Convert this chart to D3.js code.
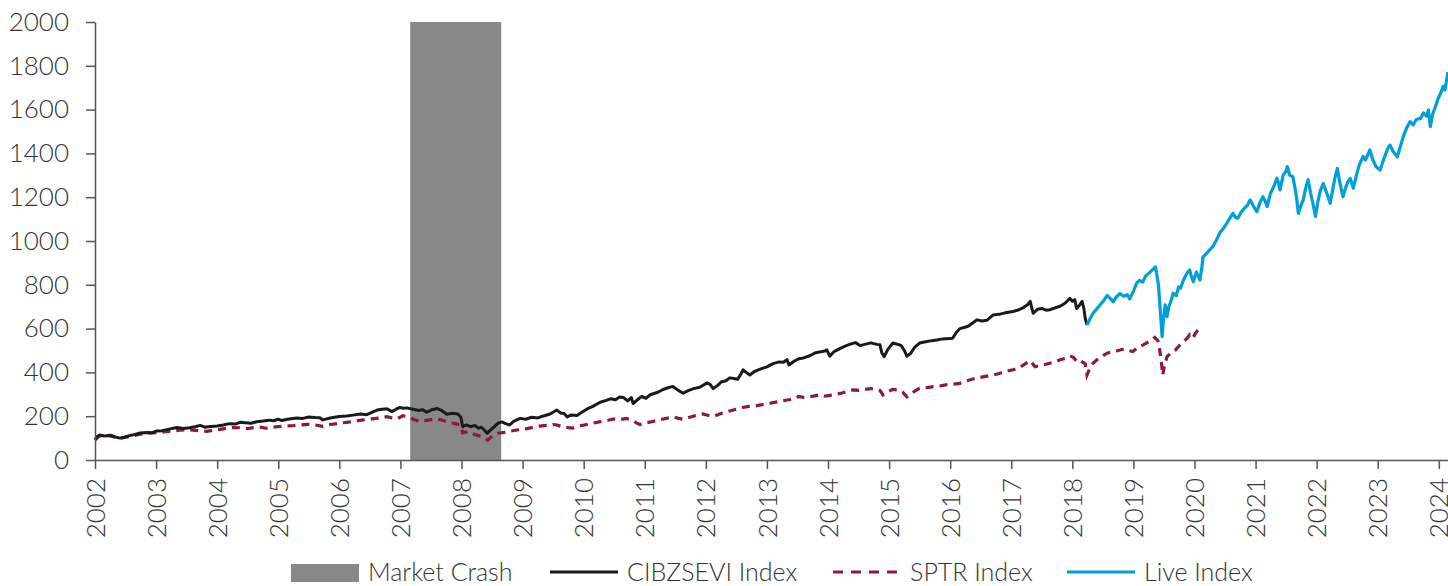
<!DOCTYPE html>
<html>
<head>
<meta charset="utf-8">
<script src="https://cdn.jsdelivr.net/npm/d3@7"></script>
<style>
  body { margin: 0; background: #fff; }
  svg text { font-family: Lato, "Open Sans", sans-serif; font-weight: 300; fill: #333; }
</style>
</head>
<body>
<div id="chart"></div>
<script>
// values: [decimal year, index level]
var cibzsevi = [
  [2002.00, 95], [2002.04, 108], [2002.08, 114], [2002.15, 110], [2002.25, 113], [2002.33, 105],
  [2002.41, 100], [2002.48, 104], [2002.55, 110], [2002.64, 116], [2002.74, 123], [2002.85, 126],
  [2002.93, 124], [2003.00, 132], [2003.10, 134], [2003.23, 142], [2003.34, 148], [2003.45, 144],
  [2003.55, 147], [2003.64, 152], [2003.72, 158], [2003.80, 150], [2003.85, 152], [2004.00, 155],
  [2004.10, 160], [2004.20, 166], [2004.30, 164], [2004.37, 172], [2004.46, 170], [2004.55, 168],
  [2004.65, 175], [2004.75, 178], [2004.85, 182], [2004.92, 179], [2005.00, 186], [2005.06, 180],
  [2005.15, 186], [2005.30, 192], [2005.40, 190], [2005.50, 196], [2005.60, 194], [2005.68, 193],
  [2005.73, 183], [2005.85, 192], [2006.00, 199], [2006.12, 201], [2006.25, 206], [2006.35, 210],
  [2006.45, 207], [2006.55, 220], [2006.62, 228], [2006.70, 232], [2006.78, 234], [2006.86, 221],
  [2006.93, 232], [2006.99, 240], [2007.05, 236], [2007.10, 238], [2007.21, 232], [2007.30, 226],
  [2007.36, 230], [2007.43, 218], [2007.50, 228], [2007.60, 235], [2007.68, 225], [2007.76, 209],
  [2007.85, 213], [2007.94, 210], [2007.99, 195], [2008.02, 152], [2008.08, 160], [2008.15, 152],
  [2008.22, 158], [2008.28, 145], [2008.32, 150], [2008.38, 135], [2008.42, 122], [2008.47, 135],
  [2008.52, 148], [2008.60, 168], [2008.66, 174], [2008.72, 166], [2008.79, 160], [2008.86, 178],
  [2008.96, 190], [2009.05, 186], [2009.15, 195], [2009.25, 192], [2009.33, 200], [2009.45, 210],
  [2009.56, 228], [2009.62, 215], [2009.68, 212], [2009.73, 197], [2009.80, 206], [2009.89, 203],
  [2009.97, 218], [2010.05, 232], [2010.15, 245], [2010.27, 264], [2010.37, 272], [2010.45, 280],
  [2010.52, 275], [2010.59, 288], [2010.66, 284], [2010.72, 270], [2010.78, 285], [2010.81, 258],
  [2010.88, 275], [2010.95, 290], [2011.02, 282], [2011.09, 298], [2011.20, 308], [2011.30, 322],
  [2011.38, 330], [2011.46, 336], [2011.55, 318], [2011.63, 305], [2011.72, 318], [2011.80, 326],
  [2011.90, 332], [2012.02, 352], [2012.07, 345], [2012.12, 326], [2012.20, 342], [2012.25, 356],
  [2012.33, 362], [2012.39, 375], [2012.46, 372], [2012.52, 368], [2012.58, 395], [2012.61, 412],
  [2012.66, 400], [2012.72, 388], [2012.80, 405], [2012.90, 416], [2013.00, 425], [2013.10, 440],
  [2013.20, 448], [2013.27, 446], [2013.33, 458], [2013.36, 434], [2013.45, 452], [2013.52, 462],
  [2013.60, 466], [2013.70, 476], [2013.80, 490], [2013.88, 494], [2013.95, 498], [2013.98, 503],
  [2014.03, 474], [2014.10, 495], [2014.20, 510], [2014.30, 522], [2014.38, 530], [2014.45, 536],
  [2014.53, 522], [2014.60, 528], [2014.70, 535], [2014.80, 528], [2014.85, 526], [2014.88, 490],
  [2014.92, 472], [2014.98, 505], [2015.06, 534], [2015.12, 530], [2015.20, 522], [2015.25, 500],
  [2015.29, 474], [2015.35, 486], [2015.42, 515], [2015.50, 534], [2015.60, 540], [2015.70, 545],
  [2015.78, 548], [2015.88, 553], [2016.04, 556], [2016.10, 582], [2016.16, 600], [2016.24, 606],
  [2016.30, 612], [2016.38, 628], [2016.44, 640], [2016.52, 635], [2016.60, 638], [2016.70, 662],
  [2016.80, 665], [2016.90, 672], [2017.03, 678], [2017.12, 686], [2017.20, 696], [2017.27, 710],
  [2017.31, 724], [2017.34, 690], [2017.36, 670], [2017.43, 688], [2017.50, 692], [2017.57, 684],
  [2017.63, 686], [2017.72, 695], [2017.80, 702], [2017.88, 716], [2017.96, 738], [2018.00, 725],
  [2018.04, 732], [2018.07, 692], [2018.12, 708], [2018.16, 724], [2018.19, 690], [2018.21, 648],
  [2018.24, 616]
];

var sptr = [
  [2002.00, 91], [2002.06, 108], [2002.13, 114], [2002.25, 110], [2002.41, 99], [2002.55, 106],
  [2002.70, 116], [2002.85, 122], [2003.00, 125], [2003.12, 128], [2003.25, 132], [2003.38, 136],
  [2003.51, 138], [2003.65, 135], [2003.83, 131], [2003.95, 137], [2004.05, 140], [2004.15, 145],
  [2004.26, 148], [2004.40, 147], [2004.50, 143], [2004.59, 148], [2004.70, 150], [2004.80, 145],
  [2004.90, 150], [2005.00, 152], [2005.12, 155], [2005.25, 157], [2005.36, 160], [2005.48, 163],
  [2005.60, 160], [2005.73, 154], [2005.85, 162], [2006.00, 168], [2006.12, 172], [2006.25, 177],
  [2006.39, 183], [2006.50, 186], [2006.60, 190], [2006.70, 194], [2006.78, 198], [2006.86, 192],
  [2006.94, 187], [2007.04, 202], [2007.14, 196], [2007.22, 185], [2007.32, 176], [2007.45, 182],
  [2007.60, 188], [2007.70, 180], [2007.80, 172], [2007.93, 164], [2007.98, 160], [2008.02, 124],
  [2008.10, 130], [2008.20, 118], [2008.30, 110], [2008.36, 104], [2008.43, 91], [2008.50, 108],
  [2008.60, 122], [2008.70, 126], [2008.80, 132], [2008.91, 137], [2009.05, 142], [2009.15, 148],
  [2009.28, 155], [2009.40, 158], [2009.50, 162], [2009.56, 160], [2009.65, 152], [2009.75, 148],
  [2009.82, 146], [2009.92, 155], [2010.05, 162], [2010.15, 168], [2010.27, 175], [2010.38, 180],
  [2010.48, 187], [2010.60, 185], [2010.70, 190], [2010.81, 180], [2010.87, 168], [2010.92, 162],
  [2011.00, 168], [2011.13, 176], [2011.25, 184], [2011.35, 190], [2011.46, 198], [2011.55, 190],
  [2011.63, 186], [2011.75, 196], [2011.85, 204], [2011.95, 210], [2012.03, 204], [2012.12, 198],
  [2012.25, 212], [2012.39, 224], [2012.50, 232], [2012.60, 240], [2012.70, 245], [2012.80, 246],
  [2012.90, 252], [2013.00, 255], [2013.10, 262], [2013.22, 268], [2013.33, 274], [2013.45, 278],
  [2013.52, 290], [2013.60, 286], [2013.70, 288], [2013.80, 294], [2013.87, 298], [2013.95, 292],
  [2014.03, 295], [2014.10, 300], [2014.20, 304], [2014.30, 312], [2014.41, 320], [2014.50, 318],
  [2014.60, 322], [2014.70, 326], [2014.80, 324], [2014.85, 318], [2014.90, 297], [2014.95, 308],
  [2015.06, 322], [2015.15, 320], [2015.22, 310], [2015.29, 289], [2015.35, 298], [2015.42, 315],
  [2015.50, 327], [2015.60, 330], [2015.70, 334], [2015.83, 338], [2015.95, 344], [2016.05, 346],
  [2016.16, 350], [2016.27, 362], [2016.37, 370], [2016.47, 376], [2016.58, 382], [2016.70, 388],
  [2016.80, 395], [2016.90, 404], [2017.03, 412], [2017.13, 420], [2017.22, 438], [2017.31, 454],
  [2017.35, 440], [2017.39, 426], [2017.48, 432], [2017.55, 436], [2017.63, 442], [2017.72, 448],
  [2017.80, 458], [2017.88, 464], [2017.96, 476], [2018.02, 468], [2018.07, 450], [2018.12, 456],
  [2018.16, 448], [2018.21, 440], [2018.24, 388], [2018.28, 415], [2018.34, 442], [2018.42, 462],
  [2018.50, 476], [2018.57, 488], [2018.65, 494], [2018.72, 498], [2018.78, 502], [2018.85, 508],
  [2018.92, 500], [2018.99, 495], [2019.06, 512], [2019.16, 526], [2019.25, 540], [2019.30, 548],
  [2019.35, 560], [2019.40, 545], [2019.43, 503], [2019.46, 440], [2019.48, 388], [2019.50, 420],
  [2019.55, 472], [2019.62, 490], [2019.68, 500], [2019.76, 525], [2019.82, 540], [2019.88, 556],
  [2019.92, 572], [2019.97, 556], [2020.02, 580], [2020.06, 595], [2020.09, 590]
];

var liveIndex = [
  [2018.24, 616], [2018.28, 640], [2018.34, 670], [2018.40, 690], [2018.46, 710], [2018.52, 730],
  [2018.57, 752], [2018.62, 738], [2018.67, 722], [2018.72, 745], [2018.78, 760], [2018.84, 748],
  [2018.90, 755], [2018.94, 736], [2019.00, 770], [2019.05, 806], [2019.10, 820], [2019.15, 812],
  [2019.20, 840], [2019.25, 852], [2019.31, 868], [2019.34, 876], [2019.36, 882], [2019.38, 850],
  [2019.41, 800], [2019.44, 680], [2019.47, 563], [2019.49, 640], [2019.52, 708], [2019.55, 654],
  [2019.58, 700], [2019.62, 730], [2019.65, 762], [2019.70, 750], [2019.74, 790], [2019.77, 784],
  [2019.82, 822], [2019.87, 850], [2019.92, 868], [2019.95, 838], [2019.98, 814], [2020.03, 858],
  [2020.06, 840], [2020.09, 822], [2020.12, 880], [2020.14, 928], [2020.20, 945], [2020.25, 960],
  [2020.30, 975], [2020.36, 1005], [2020.42, 1040], [2020.48, 1060], [2020.53, 1082], [2020.58, 1105],
  [2020.63, 1126], [2020.67, 1108], [2020.71, 1104], [2020.76, 1130], [2020.82, 1150], [2020.87, 1165],
  [2020.91, 1188], [2020.96, 1162], [2021.02, 1134], [2021.07, 1175], [2021.12, 1202], [2021.16, 1180],
  [2021.19, 1157], [2021.24, 1215], [2021.30, 1250], [2021.35, 1287], [2021.38, 1260], [2021.40, 1233],
  [2021.45, 1300], [2021.50, 1320], [2021.52, 1340], [2021.56, 1300], [2021.61, 1294], [2021.64, 1250],
  [2021.67, 1200], [2021.70, 1126], [2021.74, 1160], [2021.78, 1188], [2021.82, 1240], [2021.86, 1280],
  [2021.90, 1220], [2021.94, 1170], [2021.98, 1112], [2022.02, 1180], [2022.06, 1230], [2022.11, 1263],
  [2022.15, 1230], [2022.19, 1200], [2022.22, 1172], [2022.26, 1230], [2022.30, 1290], [2022.34, 1332],
  [2022.37, 1280], [2022.40, 1240], [2022.43, 1202], [2022.47, 1240], [2022.51, 1270], [2022.55, 1286],
  [2022.60, 1241], [2022.65, 1300], [2022.70, 1350], [2022.76, 1386], [2022.80, 1370], [2022.84, 1395],
  [2022.87, 1416], [2022.92, 1370], [2022.97, 1340], [2023.04, 1324], [2023.08, 1360], [2023.12, 1390],
  [2023.16, 1420], [2023.20, 1438], [2023.25, 1410], [2023.29, 1395], [2023.32, 1385], [2023.37, 1430],
  [2023.42, 1480], [2023.48, 1520], [2023.53, 1545], [2023.58, 1530], [2023.63, 1555], [2023.70, 1560],
  [2023.75, 1585], [2023.80, 1570], [2023.83, 1598], [2023.86, 1522], [2023.90, 1580], [2023.94, 1610],
  [2023.98, 1644], [2024.02, 1670], [2024.05, 1690], [2024.07, 1706], [2024.10, 1690], [2024.13, 1740],
  [2024.15, 1772]
];

var crash = [2007.16, 2008.65];
var yearTicks = d3.range(2002, 2025);
var valueTicks = d3.range(0, 2001, 200);

var legendItems = [
  { label: "Market Crash", kind: "rect", color: "#888889" },
  { label: "CIBZSEVI Index", kind: "line", color: "#1a1a1a" },
  { label: "SPTR Index", kind: "dash", color: "#8a1a42" },
  { label: "Live Index", kind: "line", color: "#009fda" }
];
// swatch offsets of the legend entries, from the left of the legend
var legendOffsets = [0, 259, 542, 776];

var W = 1448, H = 586;
var margin = { top: 22, right: 0, bottom: 126, left: 95 };
var width = W - margin.left - margin.right;
var height = H - margin.top - margin.bottom;

var svg = d3.select("#chart").append("svg")
  .attr("width", W)
  .attr("height", H);

var g = svg.append("g")
  .attr("transform", "translate(" + margin.left + "," + margin.top + ")");

var x = d3.scaleLinear().domain([2002, 2024.15]).range([0, width]);
var y = d3.scaleLinear().domain([0, 2000]).range([height, 0]);

// crash band
g.append("rect")
  .attr("x", x(crash[0]))
  .attr("y", y(2000))
  .attr("width", x(crash[1]) - x(crash[0]))
  .attr("height", y(0) - y(2000))
  .attr("fill", "#888889");

var line = d3.line()
  .x(function (d) { return x(d[0]); })
  .y(function (d) { return y(d[1]); });

g.append("path").datum(sptr)
  .attr("d", line)
  .attr("fill", "none")
  .attr("stroke", "#8a1a42")
  .attr("stroke-width", 3.2)
  .attr("stroke-dasharray", "8,6");

g.append("path").datum(cibzsevi)
  .attr("d", line)
  .attr("fill", "none")
  .attr("stroke", "#1a1a1a")
  .attr("stroke-width", 3)
  .attr("stroke-linejoin", "round");

g.append("path").datum(liveIndex)
  .attr("d", line)
  .attr("fill", "none")
  .attr("stroke", "#009fda")
  .attr("stroke-width", 3.2)
  .attr("stroke-linejoin", "round");

// axes
var yaxis = g.append("g")
  .call(d3.axisLeft(y).tickValues(valueTicks).tickFormat(d3.format("d"))
    .tickSize(9).tickPadding(17).tickSizeOuter(0));
yaxis.select("path").attr("stroke", "#555").attr("stroke-width", 1.5);
yaxis.selectAll("line").attr("stroke", "#555").attr("stroke-width", 1.5);
yaxis.selectAll("text")
  .style("font-size", "26px")
  .attr("fill", "#333");

var xaxis = g.append("g")
  .attr("transform", "translate(0," + height + ")")
  .call(d3.axisBottom(x).tickValues(yearTicks).tickFormat(d3.format("d")).tickSize(9).tickSizeOuter(0));
xaxis.select("path").attr("stroke", "#555").attr("stroke-width", 1.5);
xaxis.selectAll("line").attr("stroke", "#555").attr("stroke-width", 1.5);
xaxis.selectAll("text")
  .style("font-size", "26px")
  .attr("fill", "#333")
  .attr("text-anchor", "end")
  .attr("transform", "rotate(-90)")
  .attr("x", -18)
  .attr("y", 0)
  .attr("dy", "0.35em");

// legend
var legend = svg.append("g").attr("transform", "translate(291,572)");
legendItems.forEach(function (item, i) {
  var it = legend.append("g").attr("transform", "translate(" + legendOffsets[i] + ",0)");
  if (item.kind === "rect") {
    it.append("rect").attr("x", 0).attr("y", -8).attr("width", 68).attr("height", 18).attr("fill", item.color);
  } else {
    it.append("line").attr("x1", 0).attr("x2", 68).attr("y1", 0).attr("y2", 0)
      .attr("stroke", item.color).attr("stroke-width", 3)
      .attr("stroke-dasharray", item.kind === "dash" ? "10,8" : null);
  }
  it.append("text").attr("x", 77).attr("y", 0).attr("dy", "0.35em")
    .style("font-size", "25px").text(item.label);
});
</script>
</body>
</html>
